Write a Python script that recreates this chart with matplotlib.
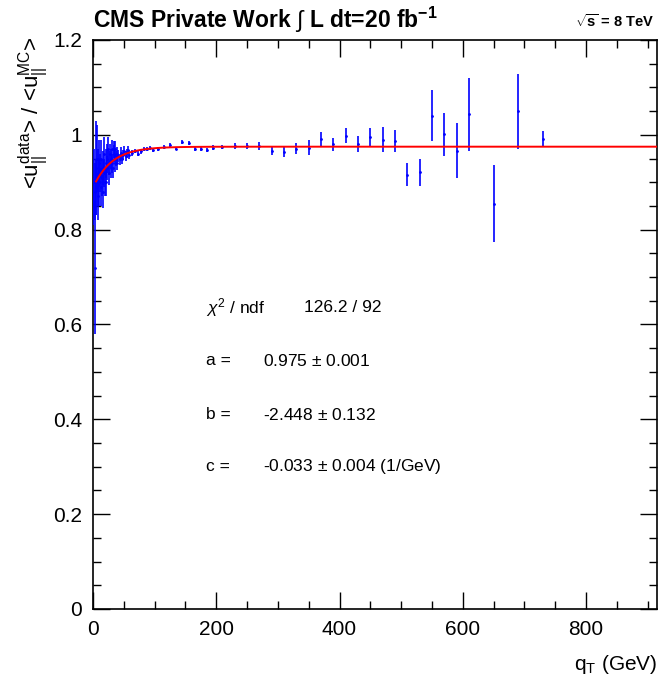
import numpy as np
import matplotlib
matplotlib.use('Agg')
from matplotlib import pyplot as plt
from matplotlib.ticker import MultipleLocator

plt.rcParams['font.family'] = ['Liberation Sans', 'DejaVu Sans']
plt.rcParams['mathtext.fontset'] = 'custom'
plt.rcParams['mathtext.rm'] = 'Liberation Sans'
plt.rcParams['mathtext.it'] = 'Liberation Sans:italic'
plt.rcParams['mathtext.bf'] = 'Liberation Sans:bold'

# response ratio vs boson qT, 1 GeV bins up to 40
qt_1gev = [0.5 + i for i in range(40)]
ratio_1gev = [0.86, 0.90, 0.72, 0.88, 0.93, 0.89, 0.95, 0.87, 0.91, 0.94,
              0.90, 0.92, 0.89, 0.95, 0.91, 0.93, 0.88, 0.96, 0.92, 0.90,
              0.94, 0.90, 0.95, 0.93, 0.97, 0.92, 0.94, 0.96, 0.93, 0.95,
              0.94, 0.97, 0.93, 0.96, 0.97, 0.94, 0.97, 0.95, 0.96, 0.94]
err_1gev = [0.05, 0.07, 0.14, 0.06, 0.10, 0.06, 0.07, 0.05, 0.06, 0.05,
            0.05, 0.04, 0.04, 0.04, 0.04, 0.035, 0.035, 0.035, 0.03, 0.03,
            0.03, 0.03, 0.03, 0.025, 0.025, 0.025, 0.025, 0.02, 0.02, 0.02,
            0.02, 0.02, 0.02, 0.018, 0.018, 0.018, 0.016, 0.016, 0.015, 0.015]

# 2 GeV bins 40-60
qt_2gev = [41, 43, 45, 47, 49, 51, 53, 55, 57, 59]
ratio_2gev = [0.955, 0.948, 0.962, 0.950, 0.958, 0.966, 0.955, 0.961, 0.968, 0.958]
err_2gev = [0.013, 0.012, 0.012, 0.011, 0.011, 0.010, 0.010, 0.009, 0.009, 0.009]

# 5 GeV bins 60-100
qt_5gev = [62.5, 67.5, 72.5, 77.5, 82.5, 87.5, 92.5, 97.5]
ratio_5gev = [0.962, 0.966, 0.960, 0.965, 0.970, 0.970, 0.973, 0.967]
err_5gev = [0.006, 0.005, 0.005, 0.005, 0.004, 0.004, 0.004, 0.004]

# 10 GeV bins 100-200
qt_10gev = [105, 115, 125, 135, 145, 155, 165, 175, 185, 195]
ratio_10gev = [0.970, 0.975, 0.978, 0.971, 0.985, 0.982, 0.970, 0.970, 0.968, 0.973]
err_10gev = [0.004, 0.004, 0.004, 0.004, 0.004, 0.004, 0.005, 0.005, 0.005, 0.005]

# 20 GeV bins above 200 (empty bins left out)
qt_20gev = [210, 230, 250, 270, 290, 310, 330, 350, 370, 390, 410, 430,
            450, 470, 490, 510, 530, 550, 570, 590, 610, 650, 690, 730]
ratio_20gev = [0.975, 0.976, 0.976, 0.977, 0.966, 0.964, 0.971, 0.973, 0.992, 0.980, 0.998, 0.981,
               0.996, 0.990, 0.987, 0.916, 0.921, 1.040, 1.001, 0.966, 1.043, 0.855, 1.050, 0.992]
err_20gev = [0.0045, 0.006, 0.006, 0.008, 0.009, 0.011, 0.012, 0.016, 0.015, 0.014, 0.016, 0.017,
             0.019, 0.027, 0.023, 0.024, 0.028, 0.054, 0.045, 0.058, 0.077, 0.082, 0.079, 0.017]

# fit f(qT) = a - exp(b + c*qT)
fit_a, fit_a_err = 0.975, 0.001
fit_b, fit_b_err = -2.448, 0.132
fit_c, fit_c_err = -0.033, 0.004
chi2, ndf = 126.2, 92
fit_range = (5, 915)

qt = np.array(qt_1gev + qt_2gev + qt_5gev + qt_10gev + qt_20gev, dtype=float)
ratio = np.array(ratio_1gev + ratio_2gev + ratio_5gev + ratio_10gev + ratio_20gev)
err = np.array(err_1gev + err_2gev + err_5gev + err_10gev + err_20gev)

fig = plt.figure(figsize=(6.65, 6.88), dpi=100)
ax = fig.add_axes([93 / 665, 1 - 609 / 688, 564 / 665, 569 / 688])

ax.errorbar(qt, ratio, yerr=err, fmt='.', ms=2, color='blue', ecolor='blue',
            elinewidth=1.2, capsize=0, zorder=3)

xf = np.linspace(fit_range[0], fit_range[1], 1000)
ax.plot(xf, fit_a - np.exp(fit_b + fit_c * xf), color='red', lw=1.4, zorder=4)

ax.set_xlim(0, 915)
ax.set_ylim(0, 1.2)
ax.xaxis.set_major_locator(MultipleLocator(200))
ax.xaxis.set_minor_locator(MultipleLocator(50))
ax.yaxis.set_major_locator(MultipleLocator(0.2))
ax.yaxis.set_minor_locator(MultipleLocator(0.05))
ax.yaxis.set_major_formatter(plt.FuncFormatter(lambda v, p: '%g' % round(v, 2)))
ax.tick_params(which='both', direction='in', top=True, right=True, width=1,
               labelsize=15, pad=8)
ax.tick_params(which='major', length=12)
ax.tick_params(which='minor', length=6)
for spine in ax.spines.values():
    spine.set_linewidth(1.2)

# fit parameters box
rows = [(0.529, r'$\chi^{2}$ / ndf', '%.1f / %d' % (chi2, ndf), 0.374),
        (0.436, 'a =', '%.3f $\\pm$ %.3f' % (fit_a, fit_a_err), 0.301),
        (0.341, 'b =', '%.3f $\\pm$ %.3f' % (fit_b, fit_b_err), 0.301),
        (0.250, 'c =', '%.3f $\\pm$ %.3f (1/GeV)' % (fit_c, fit_c_err), 0.301)]
for y, name, val, xv in rows:
    ax.text(0.2, y, name, transform=ax.transAxes, fontsize=12.5, va='center')
    ax.text(xv, y, val, transform=ax.transAxes, fontsize=12.5, va='center')

fig.text(93 / 665, 1 - 28 / 688, r'CMS Private Work $\int$ L dt=20 fb$^{\mathbf{-1}}$',
         fontsize=16.5, fontweight='bold', ha='left', va='baseline')
fig.text(655 / 665, 1 - 27 / 688, r'$\sqrt{\mathbf{s}}$ = 8 TeV',
         fontsize=10.5, fontweight='bold', ha='right', va='baseline')

fig.text(33 / 665, 1 - 37 / 688,
         r'<u$_{||}^{\mathrm{data}}$> / <u$_{||}^{\mathrm{MC}}$>',
         fontsize=16, rotation=90, ha='center', va='top')
fig.text(657 / 665, 1 - 665 / 688, r'q$_{\mathrm{T}}$ (GeV)',
         fontsize=15, ha='right', va='center')

fig.savefig('out.png', dpi=100)
